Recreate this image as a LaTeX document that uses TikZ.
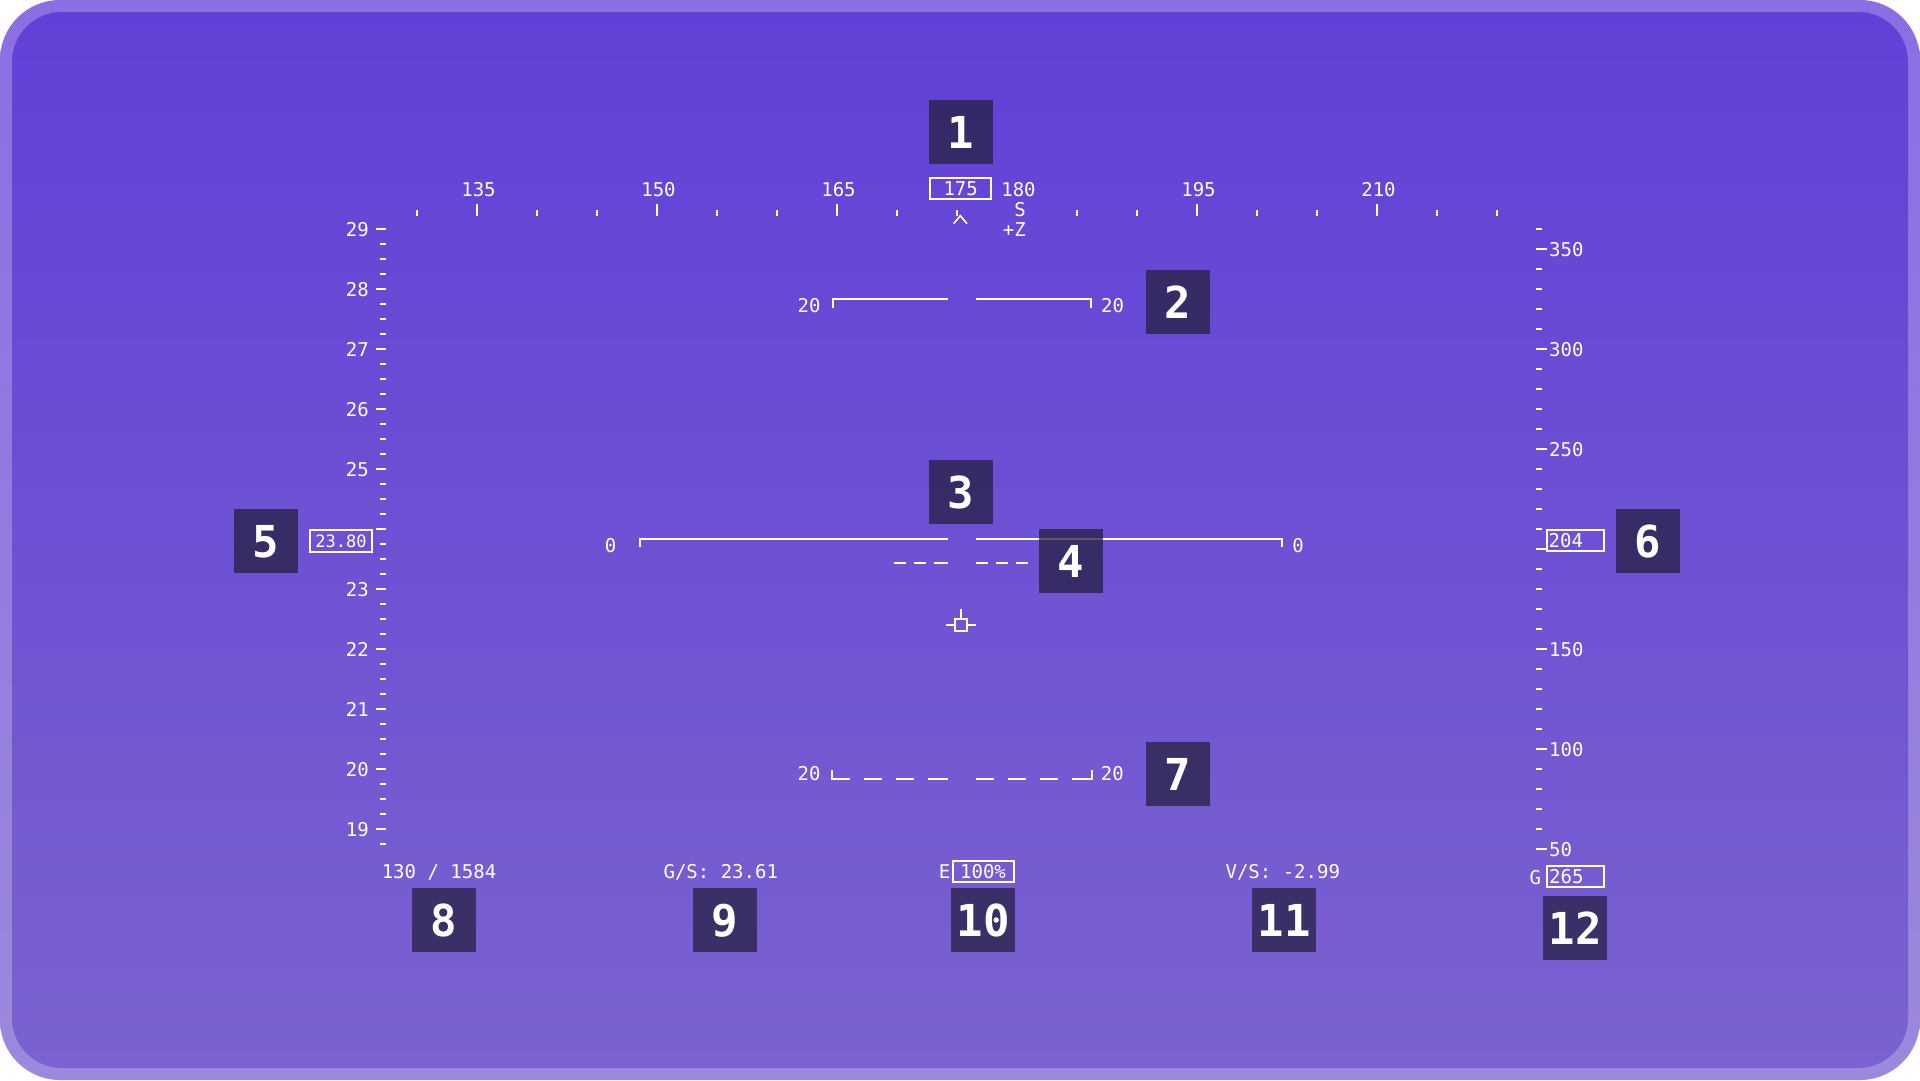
\documentclass[tikz,border=0pt]{standalone}
\usepackage{fontspec}
\newfontfamily\hud{DejaVu Sans Mono}
\definecolor{bordtop}{HTML}{8A6EE3}
\definecolor{bordbot}{HTML}{9C88DC}
\definecolor{intop}{HTML}{6140D7}
\definecolor{inbot}{HTML}{7B62D0}
\definecolor{badgecol}{HTML}{262043}
\begin{document}
\begin{tikzpicture}[x=1pt,y=-1pt,
  hudline/.style={draw=white, line width=2pt},
  hudtick/.style={draw=white, line width=2pt},
  lbl/.style={text=white, font=\hud\fontsize{19}{19}\selectfont, inner sep=0pt, text height=14pt, text depth=0pt},
  smalllbl/.style={lbl, font=\hud\fontsize{17}{17}\selectfont, text height=13pt},
  vbox/.style={draw=white, line width=2pt, inner sep=0pt},
  badge/.style={fill=badgecol, fill opacity=0.75, text opacity=1, text=white,
    minimum width=64pt, minimum height=64pt, inner sep=0pt,
    font=\hud\bfseries\fontsize{44}{44}\selectfont, text height=32pt, text depth=0pt}]
\useasboundingbox (0,0) rectangle (1920,1080);
% frame
\shade[top color=bordtop, bottom color=bordbot, rounded corners=60pt] (0,0) rectangle (1920,1080);
\shade[top color=intop, bottom color=inbot, rounded corners=50pt] (12,12) rectangle (1908,1068);

% heading tape
\foreach \h in {130,135,...,220}{
  \pgfmathtruncatemacro\m{mod(\h,15)}
  \ifnum\h=180\relax\else
    \ifnum\m=0\relax
      \draw[hudtick] ({957+(\h-175)*12},204) -- ++(0,11.7);
    \else
      \draw[hudtick] ({957+(\h-175)*12},210) -- ++(0,5.7);
    \fi
  \fi}
\foreach \h in {135,150,165,180,195,210}
  \node[lbl] (hl\h) at ({958.5+(\h-175)*12},189.3) {\h};
\node[vbox, lbl, minimum width=61pt, minimum height=21pt] (hdg) at (960.7,188.8) {175};
\node[lbl, anchor=east] (card) at (1026,209.3) {S};
\node[lbl, anchor=east] (zax) at (1026,229.3) {+Z};
\draw[hudline, line width=1.6pt] (953.6,223.7) -- (960.3,215.7) -- (967,223.7);

% left (speed) scale
\foreach \i in {0,...,41}{
  \pgfmathtruncatemacro\mm{mod(\i,4)}
  \ifnum\mm=0\relax
    \draw[hudtick] (376,{229+15*\i}) -- (386,{229+15*\i});
  \else
    \draw[hudtick] (380,{229+15*\i}) -- (386,{229+15*\i});
  \fi}
\foreach \v in {29,28,...,19}{
  \ifnum\v=24\relax\else
    \node[lbl, anchor=east] (ls\v) at (369,{229+(29-\v)*60}) {\v};
  \fi}
\node[vbox, smalllbl, minimum width=62pt, minimum height=22pt] (spd) at (341,541) {23.80};

% right (altitude) scale
\foreach \i in {0,...,31}{
  \pgfmathtruncatemacro\vv{360-10*\i}
  \pgfmathtruncatemacro\mm{mod(\vv,50)}
  \ifnum\mm=0\relax
    \draw[hudtick] (1536,{229+20*\i}) -- (1546.7,{229+20*\i});
  \else
    \draw[hudtick] (1536,{229+20*\i}) -- (1542,{229+20*\i});
  \fi}
\foreach \v in {350,300,250,150,100,50}
  \node[lbl, anchor=west] (rs\v) at (1549,{229+(360-\v)*2}) {\v};
\node[vbox, minimum width=57pt, minimum height=21pt] (alt) at (1575,540.8) {};
\node[lbl, anchor=west] (altv) at ([xshift=3pt]alt.west) {204};

% pitch ladder +20
\draw[hudline] (832.6,307.7) -- (832.6,298.7) -- (947.8,298.7);
\draw[hudline] (976.3,298.7) -- (1091,298.7) -- (1091,307.7);
\node[lbl] (p20l) at (809,305.7) {20};
\node[lbl] (p20r) at (1112.5,305.7) {20};

% horizon
\draw[hudline] (640.4,547) -- (640.4,539) -- (947.7,539);
\draw[hudline] (976,539) -- (1282,539) -- (1282,547);
\node[lbl] (h0l) at (610.7,545.3) {0};
\node[lbl] (h0r) at (1298,545.3) {0};

% short dashed reference line
\foreach \a/\b in {894/906,914/926,934/947.7,976/988,996/1008,1016/1028}
  \draw[hudline] (\a,562.7) -- (\b,562.7);

% flight path marker
\node[draw=white, line width=2pt, minimum size=12pt, inner sep=0pt] (fpm) at (961,625) {};
\draw[hudline] (fpm.west) -- ++(-8.3,0);
\draw[hudline] (fpm.east) -- ++(8,0);
\draw[hudline] (fpm.north) -- ++(0,-8.7);

% pitch ladder -20 (dashed)
\draw[hudline] (832.3,770) -- (832.3,778.7) -- (850,778.7);
\foreach \a/\b in {864/882,896/914,928/948,976/994,1008/1026,1040/1058}
  \draw[hudline] (\a,778.7) -- (\b,778.7);
\draw[hudline] (1072,778.7) -- (1092,778.7) -- (1092,770);
\node[lbl] (m20l) at (809,773.7) {20};
\node[lbl] (m20r) at (1112.3,773.7) {20};

% bottom readouts
\node[lbl] (rd8) at (439,871) {130 / 1584};
\node[lbl] (rd9) at (720.8,871) {G/S: 23.61};
\node[lbl] (rdE) at (944.7,871) {E};
\node[vbox, lbl, minimum width=61pt, minimum height=21pt] (eng) at (983,871) {100\%};
\node[lbl] (rd11) at (1282.8,871) {V/S: -2.99};
\node[lbl] (rdG) at (1535.3,877) {G};
\node[vbox, minimum width=57pt, minimum height=21pt] (gbox) at (1575,876.8) {};
\node[lbl, anchor=west] (gv) at ([xshift=3.5pt]gbox.west) {265};

% badges
\node[badge] (b1) at (961,132) {1};
\node[badge] (b2) at (1178,302) {2};
\node[badge] (b3) at (961,492) {3};
\node[badge] (b4) at (1071,561) {4};
\node[badge] (b5) at (266,541) {5};
\node[badge] (b6) at (1648,541) {6};
\node[badge] (b7) at (1178,774) {7};
\node[badge] (b8) at (444,920) {8};
\node[badge] (b9) at (725,920) {9};
\node[badge] (b10) at (983,920) {10};
\node[badge] (b11) at (1284,920) {11};
\node[badge] (b12) at (1575,928) {12};
\end{tikzpicture}
\end{document}
